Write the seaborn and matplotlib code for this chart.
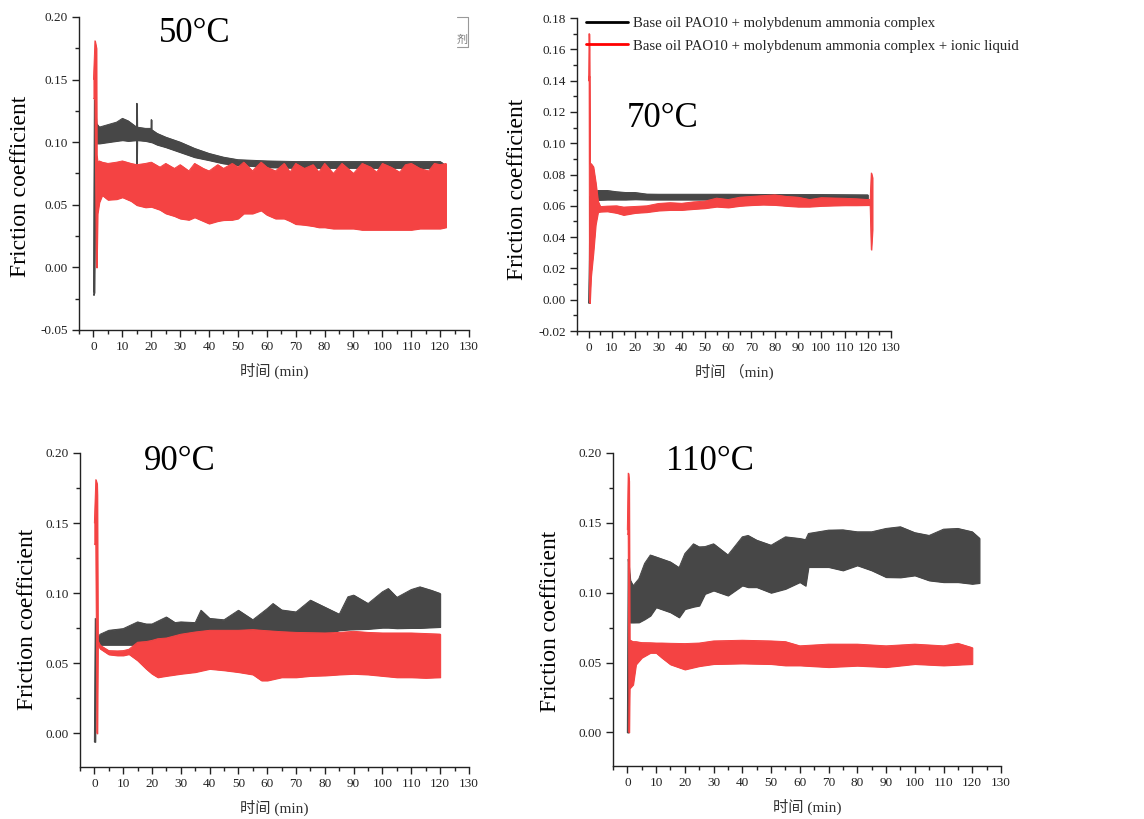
import numpy as np
import pandas as pd
import matplotlib
matplotlib.use("Agg")
import matplotlib.pyplot as plt
import seaborn as sns
from matplotlib.ticker import MultipleLocator, FormatStrFormatter
from matplotlib.lines import Line2D

# ---------------- data: friction-coefficient envelopes (upper / lower) ----------------
series_labels = [
    "Base oil PAO10 + molybdenum ammonia complex",
    "Base oil PAO10 + molybdenum ammonia complex + ionic liquid",
]
temperatures = ["50°C", "70°C", "90°C", "110°C"]

# 50 °C
t_50_mo = [0.0, 0.3, 0.7, 1.0, 2, 5, 8, 10, 12, 14.9, 15.0, 15.1, 18, 19.9, 20.0, 20.1, 22, 25, 30, 35,
           40, 45, 50, 55, 60, 70, 80, 90, 100, 110, 120, 121]
hi_50_mo = [-0.02, 0.134, 0.125, 0.115, 0.112, 0.114, 0.116, 0.119, 0.117, 0.112, 0.131, 0.112, 0.111,
            0.111, 0.118, 0.110, 0.107, 0.104, 0.100, 0.095, 0.091, 0.088, 0.086, 0.0855, 0.085, 0.0845,
            0.0845, 0.0845, 0.0845, 0.0845, 0.0845, 0.083]
lo_50_mo = [-0.022, -0.02, 0.098, 0.099, 0.099, 0.100, 0.101, 0.1016, 0.101, 0.1016, 0.081, 0.1016,
            0.101, 0.100, 0.100, 0.100, 0.098, 0.096, 0.092, 0.088, 0.0856, 0.083, 0.0817, 0.081, 0.080,
            0.0795, 0.0795, 0.0795, 0.0795, 0.0795, 0.079, 0.078]

t_50_il = [0.0, 0.5, 1.0, 1.1, 1.4, 2, 3, 5, 8, 10, 13, 15, 18, 20, 23, 25, 28, 30, 33, 35, 38, 40, 43,
           45, 48, 50, 52, 55, 58, 60, 63, 66, 68, 70, 73, 76, 78, 80, 83, 86, 88, 90, 93, 96, 98, 100,
           103, 106, 108, 110, 113, 116, 118, 120, 122]
hi_50_il = [0.150, 0.181, 0.175, 0.090, 0.084, 0.085, 0.084, 0.083, 0.084, 0.085, 0.083, 0.082, 0.083,
            0.084, 0.080, 0.083, 0.079, 0.082, 0.077, 0.083, 0.079, 0.077, 0.082, 0.079, 0.083, 0.080,
            0.084, 0.077, 0.084, 0.080, 0.077, 0.083, 0.076, 0.083, 0.079, 0.082, 0.076, 0.083, 0.075,
            0.083, 0.079, 0.075, 0.083, 0.080, 0.076, 0.083, 0.080, 0.076, 0.082, 0.083, 0.079, 0.077,
            0.083, 0.082, 0.083]
lo_50_il = [0.135, 0.135, 0.0, 0.0, 0.043, 0.052, 0.0577, 0.054, 0.0545, 0.056, 0.053, 0.0497, 0.048,
            0.0484, 0.046, 0.0431, 0.041, 0.039, 0.038, 0.040, 0.037, 0.035, 0.037, 0.0378, 0.038, 0.039,
            0.043, 0.043, 0.0455, 0.042, 0.039, 0.039, 0.037, 0.0346, 0.034, 0.033, 0.032, 0.032, 0.031,
            0.031, 0.031, 0.031, 0.030, 0.030, 0.030, 0.030, 0.030, 0.030, 0.030, 0.030, 0.031, 0.031,
            0.031, 0.031, 0.032]

# 70 °C
t_70_mo = [0.0, 0.3, 0.5, 4, 8, 12, 16, 20, 25, 30, 40, 60, 80, 100, 120]
hi_70_mo = [-0.002, 0.026, 0.066, 0.0698, 0.0698, 0.069, 0.0685, 0.0685, 0.0675, 0.0674, 0.0674,
            0.0674, 0.0672, 0.0672, 0.0670]
lo_70_mo = [-0.002, 0.0, 0.063, 0.0638, 0.0640, 0.0640, 0.0640, 0.0642, 0.0640, 0.0640, 0.0640,
            0.0640, 0.0640, 0.0638, 0.0636]

t_70_il = [0.0, 0.2, 0.35, 0.5, 1, 2, 3, 4, 5, 8, 12, 15, 20, 25, 30, 35, 40, 45, 50, 55, 60, 65, 70,
           75, 80, 85, 90, 95, 100, 105, 110, 115, 120, 121, 121.5, 122]
hi_70_il = [0.14, 0.170, 0.160, 0.087, 0.087, 0.085, 0.075, 0.063, 0.0595, 0.0598, 0.060, 0.0592,
            0.0596, 0.060, 0.0615, 0.062, 0.0616, 0.0625, 0.063, 0.0649, 0.064, 0.0655, 0.066, 0.0665,
            0.067, 0.066, 0.0655, 0.064, 0.0652, 0.065, 0.0648, 0.0645, 0.064, 0.064, 0.081, 0.078]
lo_70_il = [0.14, 0.143, 0.0, -0.002, 0.015, 0.030, 0.048, 0.056, 0.0563, 0.0565, 0.0555, 0.0542,
            0.0555, 0.056, 0.057, 0.0574, 0.0574, 0.058, 0.0585, 0.0595, 0.059, 0.060, 0.0605, 0.0608,
            0.0606, 0.060, 0.0595, 0.0595, 0.060, 0.0602, 0.0604, 0.0604, 0.0605, 0.0605, 0.032, 0.045]

# 90 °C
t_90_mo = [0.0, 0.3, 0.6, 1.0, 2, 5, 10, 15, 18, 20, 25, 28, 30, 35, 37, 40, 45, 50, 55, 60, 62, 65,
           70, 75, 80, 85, 88, 90, 95, 100, 102, 105, 110, 113, 117, 120]
hi_90_mo = [-0.006, 0.082, 0.070, 0.068, 0.0707, 0.0735, 0.0747, 0.0795, 0.078, 0.078, 0.083, 0.079,
            0.0795, 0.079, 0.0878, 0.082, 0.081, 0.0878, 0.081, 0.089, 0.0926, 0.088, 0.0866, 0.095,
            0.090, 0.085, 0.0974, 0.0986, 0.0926, 0.101, 0.1033, 0.097, 0.1026, 0.1045, 0.102, 0.0998]
lo_90_mo = [-0.006, -0.006, 0.063, 0.063, 0.0632, 0.0632, 0.0632, 0.0632, 0.0635, 0.064, 0.065, 0.066,
            0.067, 0.068, 0.068, 0.069, 0.069, 0.069, 0.069, 0.069, 0.069, 0.069, 0.069, 0.070, 0.071,
            0.0735, 0.074, 0.0742, 0.0745, 0.0754, 0.0754, 0.075, 0.0752, 0.0752, 0.0756, 0.0759]

t_90_il = [0.0, 0.5, 0.9, 1.0, 1.2, 2, 5, 8, 10, 12, 15, 18, 20, 22, 25, 30, 35, 40, 45, 50, 55, 58,
           60, 65, 70, 75, 80, 85, 90, 95, 100, 105, 110, 115, 120]
hi_90_il = [0.150, 0.181, 0.178, 0.170, 0.066, 0.0628, 0.059, 0.0588, 0.059, 0.060, 0.065, 0.0655,
            0.0663, 0.0675, 0.068, 0.0707, 0.0723, 0.0735, 0.0735, 0.0735, 0.074, 0.0735, 0.0732,
            0.0725, 0.072, 0.0718, 0.0716, 0.072, 0.0728, 0.072, 0.0716, 0.0716, 0.0716, 0.0712, 0.0708]
lo_90_il = [0.135, 0.135, 0.0, 0.0, 0.064, 0.0604, 0.0563, 0.0556, 0.0556, 0.0565, 0.052, 0.046,
            0.0425, 0.040, 0.041, 0.0425, 0.0437, 0.046, 0.045, 0.0437, 0.042, 0.0377, 0.0377, 0.040,
            0.040, 0.041, 0.0413, 0.042, 0.0425, 0.042, 0.041, 0.040, 0.040, 0.0396, 0.040]

# 110 °C
t_110_mo = [0.0, 0.3, 0.6, 1, 2, 4, 6, 8, 10, 15, 18, 20, 23, 25, 27, 30, 35, 40, 42, 45, 50, 55, 60,
            62, 63, 70, 75, 80, 85, 90, 95, 100, 105, 110, 115, 120, 122.5]
hi_110_mo = [0.0, 0.124, 0.118, 0.109, 0.105, 0.110, 0.121, 0.127, 0.1256, 0.122, 0.118, 0.128, 0.135,
             0.1328, 0.133, 0.135, 0.127, 0.140, 0.141, 0.1376, 0.134, 0.140, 0.1388, 0.138, 0.1424,
             0.1448, 0.145, 0.1436, 0.1436, 0.146, 0.1472, 0.143, 0.141, 0.1455, 0.146, 0.1436, 0.139]
lo_110_mo = [0.0, 0.0, 0.080, 0.0787, 0.0787, 0.0788, 0.081, 0.0836, 0.0896, 0.086, 0.0824, 0.0883,
             0.090, 0.0908, 0.0992, 0.1016, 0.098, 0.1052, 0.104, 0.104, 0.100, 0.1028, 0.1076, 0.105,
             0.1184, 0.1184, 0.116, 0.1196, 0.116, 0.1112, 0.111, 0.1124, 0.1088, 0.1076, 0.1076,
             0.1064, 0.107]

t_110_il = [0.0, 0.3, 0.6, 0.8, 1, 2, 3, 5, 8, 10, 12, 15, 20, 25, 30, 40, 50, 55, 60, 70, 80, 90, 100,
            110, 115, 120]
hi_110_il = [0.145, 0.1856, 0.180, 0.066, 0.066, 0.065, 0.065, 0.0643, 0.0642, 0.064, 0.064, 0.0638,
             0.0636, 0.064, 0.0655, 0.066, 0.0655, 0.065, 0.062, 0.0632, 0.0632, 0.062, 0.0632, 0.062,
             0.0638, 0.0607]
lo_110_il = [0.142, 0.142, 0.0, 0.032, 0.032, 0.0343, 0.0487, 0.0535, 0.057, 0.057, 0.0535, 0.0487,
             0.0451, 0.0475, 0.049, 0.0494, 0.049, 0.048, 0.048, 0.0468, 0.0478, 0.0468, 0.049, 0.048,
             0.0485, 0.049]

x_ticks = list(range(0, 131, 10))

# ---------------- style ----------------
sns.set_theme(style="ticks")
plt.rcParams["font.family"] = ["Liberation Serif", "Noto Sans CJK SC"]
plt.rcParams["axes.unicode_minus"] = False

MO_COLOR = "#474747"
IL_COLOR = "#f44343"

fig = plt.figure(figsize=(11.44, 8.19), dpi=100)

panels = [
    dict(rect=[0.0691, 0.5971, 0.3409, 0.3822], ylim=(-0.05, 0.20), major=0.05, minor=0.025,
         mo=(t_50_mo, hi_50_mo, lo_50_mo), il=(t_50_il, hi_50_il, lo_50_il),
         title=temperatures[0], tpos=(35, 0.187), ylab=(-0.124, 0.46), xlab="时间 (min)"),
    dict(rect=[0.5044, 0.5958, 0.2745, 0.3822], ylim=(-0.02, 0.18), major=0.02, minor=0.01,
         mo=(t_70_mo, hi_70_mo, lo_70_mo), il=(t_70_il, hi_70_il, lo_70_il),
         title=temperatures[1], tpos=(32, 0.116), ylab=(-0.155, 0.454), xlab="时间 （min)"),
    dict(rect=[0.0699, 0.0635, 0.3400, 0.3834], ylim=(-0.024, 0.20), major=0.05, minor=0.025,
         mo=(t_90_mo, hi_90_mo, lo_90_mo), il=(t_90_il, hi_90_il, lo_90_il),
         title=temperatures[2], tpos=(29.5, 0.194), ylab=(-0.108, 0.471), xlab="时间 (min)"),
    dict(rect=[0.5358, 0.0647, 0.3392, 0.3822], ylim=(-0.024, 0.20), major=0.05, minor=0.025,
         mo=(t_110_mo, hi_110_mo, lo_110_mo), il=(t_110_il, hi_110_il, lo_110_il),
         title=temperatures[3], tpos=(28.6, 0.194), ylab=(-0.134, 0.463), xlab="时间 (min)"),
]


def draw_band(ax, t, hi, lo, color, z):
    """Filled envelope of one friction trace; edges and fill share one layer."""
    df = pd.DataFrame({"t": t, "hi": hi, "lo": lo})
    ax.fill_between(df["t"], df["lo"], df["hi"], color=color, lw=0.8, edgecolor=color, zorder=z)
    for col in ("hi", "lo"):
        sns.lineplot(data=df, x="t", y=col, ax=ax, color=color, lw=0.7,
                     estimator=None, sort=False, legend=False, zorder=z + 0.1)


axes = []
for p in panels:
    ax = fig.add_axes(p["rect"])
    axes.append(ax)
    draw_band(ax, *p["mo"], MO_COLOR, 1.0)
    draw_band(ax, *p["il"], IL_COLOR, 1.5)

    ax.set_xlim(-5, 130)
    ax.set_xticks(x_ticks)
    ax.xaxis.set_minor_locator(MultipleLocator(5))
    ax.yaxis.set_major_locator(MultipleLocator(p["major"]))
    ax.yaxis.set_minor_locator(MultipleLocator(p["minor"]))
    ax.yaxis.set_major_formatter(FormatStrFormatter("%.2f"))
    ax.set_ylim(*p["ylim"])
    sns.despine(ax=ax)
    for s in ("left", "bottom"):
        ax.spines[s].set_color("#222222")
        ax.spines[s].set_linewidth(1.0)
    ax.tick_params(which="major", direction="out", length=5, width=1, colors="#222222",
                   labelsize=9.5, pad=3)
    ax.tick_params(which="minor", direction="out", length=3, width=1, colors="#222222")

    ax.set_ylabel("Friction coefficient", fontsize=17, color="black")
    ax.yaxis.set_label_coords(*p["ylab"])
    ax.set_xlabel(p["xlab"], fontsize=11, color="#333333")
    ax.xaxis.set_label_coords(0.5, -0.105)
    ax.text(p["tpos"][0], p["tpos"][1], p["title"], fontsize=25, ha="center", va="center",
            color="black", zorder=3)

# legend on the 70 °C panel
handles = [Line2D([], [], color="#000000", lw=2), Line2D([], [], color="#ff0000", lw=2)]
axes[1].legend(handles, series_labels, loc="upper left", bbox_to_anchor=(0.03, 1.003),
               frameon=False, fontsize=10.6, handlelength=2.8, handletextpad=0.35,
               labelspacing=0.6, borderpad=0, borderaxespad=0)

# clipped legend remnant in the 50 °C panel corner
fig.add_artist(Line2D([457 / 1144, 468 / 1144, 468 / 1144, 457 / 1144],
                      [1 - 17 / 819, 1 - 17 / 819, 1 - 47 / 819, 1 - 47 / 819],
                      color="#999999", lw=0.8))
fig.text(462 / 1144, 1 - 40 / 819, "剂", fontsize=8, color="#777777", ha="center", va="center",
         family=["Noto Sans CJK SC"])

fig.savefig("out.png", dpi=100)
